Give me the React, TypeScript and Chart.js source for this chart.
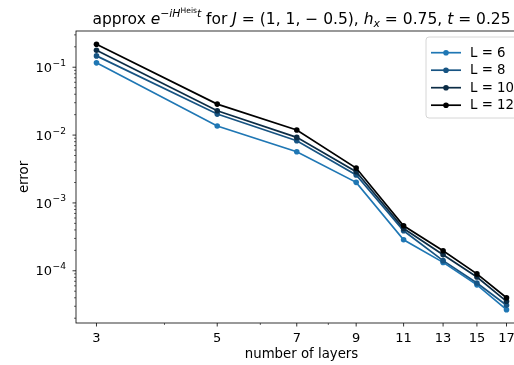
import React, { useEffect, useRef } from "react";
import { Chart, registerables } from "chart.js";
Chart.register(...registerables);

const layers = [3, 5, 7, 9, 11, 13, 15, 17];
const seriesLabels = ["L = 6", "L = 8", "L = 10", "L = 12"];
const errL6 = [0.116, 0.0136, 0.00569, 0.00201, 2.86e-4, 1.33e-4, 6.2e-5, 2.67e-5];
const errL8 = [0.147, 0.0204, 0.00824, 0.00258, 3.89e-4, 1.41e-4, 6.6e-5, 3.1e-5];
const errL10 = [0.178, 0.0228, 0.00925, 0.00288, 4.19e-4, 1.72e-4, 8.1e-5, 3.55e-5];
const errL12 = [0.218, 0.0286, 0.0119, 0.00327, 4.6e-4, 1.97e-4, 9.0e-5, 4.0e-5];
const seriesColors = ["#1f77b4", "#175483", "#0c2c45", "#000000"];
const xTickValues = [3, 5, 7, 9, 11, 13, 15, 17];
const xMinorTicks = [4, 6, 8];
const yTickValues = [1e-4, 1e-3, 1e-2, 1e-1];
const yTickBase = "10";
const yTickExponents = ["−4", "−3", "−2", "−1"];
const xLabel = "number of layers";
const yLabel = "error";

const FONT = '"DejaVu Sans"';
const TICK_SIZE = 13;
const LABEL_SIZE = 13.3;

const overlayPlugin = {
  id: "overlay",
  afterDraw(chart: any) {
    const ctx = chart.ctx as CanvasRenderingContext2D;
    const ca = chart.chartArea;
    const xs = chart.scales.x;
    const ys = chart.scales.y;
    ctx.save();
    // frame
    ctx.strokeStyle = "#000";
    ctx.lineWidth = 0.8;
    ctx.strokeRect(ca.left, ca.top, ca.right - ca.left, ca.bottom - ca.top);
    const tick = (x1: number, y1: number, x2: number, y2: number, w: number) => {
      ctx.lineWidth = w;
      ctx.beginPath();
      ctx.moveTo(x1, y1);
      ctx.lineTo(x2, y2);
      ctx.stroke();
    };
    xTickValues.forEach((v) => {
      const px = xs.getPixelForValue(v);
      tick(px, ca.bottom, px, ca.bottom + 3.5, 0.8);
    });
    xMinorTicks.forEach((v) => {
      const px = xs.getPixelForValue(v);
      tick(px, ca.bottom, px, ca.bottom + 2, 0.6);
    });
    for (let e = -6; e <= 0; e++) {
      for (let m = 1; m <= 9; m++) {
        const v = m * Math.pow(10, e);
        if (v < ys.min || v > ys.max) continue;
        const py = ys.getPixelForValue(v);
        if (m === 1) tick(ca.left, py, ca.left - 3.5, py, 0.8);
        else tick(ca.left, py, ca.left - 2, py, 0.6);
      }
    }
    // y tick labels (10^n, mathtext-like)
    ctx.fillStyle = "#000";
    ctx.textBaseline = "alphabetic";
    ctx.textAlign = "left";
    yTickValues.forEach((v, i) => {
      const py = ys.getPixelForValue(v);
      const supSize = TICK_SIZE * 0.7;
      ctx.font = `${supSize}px ${FONT}`;
      const wSup = ctx.measureText(yTickExponents[i]).width;
      ctx.font = `${TICK_SIZE}px ${FONT}`;
      const wBase = ctx.measureText(yTickBase).width;
      const right = ca.left - 10.5;
      const x0 = right - wSup - wBase;
      const base = py + 0.36 * TICK_SIZE;
      ctx.fillText(yTickBase, x0, base);
      ctx.font = `${supSize}px ${FONT}`;
      ctx.fillText(yTickExponents[i], x0 + wBase + 0.5, base - 0.48 * TICK_SIZE);
    });
    // axis labels
    ctx.font = `${LABEL_SIZE}px ${FONT}`;
    ctx.textAlign = "center";
    ctx.textBaseline = "middle";
    ctx.fillText(xLabel, (ca.left + ca.right) / 2, 355);
    ctx.save();
    ctx.translate(25, (ca.top + ca.bottom) / 2);
    ctx.rotate(-Math.PI / 2);
    ctx.fillText(yLabel, 0, 0);
    ctx.restore();

    // title (mathtext-like)
    const s = 15.5;
    const segs: { t: string; it?: boolean; sz: number; dy: number }[] = [
      { t: "approx ", sz: s, dy: 0 },
      { t: "e", it: true, sz: s, dy: 0 },
      { t: "−", sz: s * 0.7, dy: -0.42 * s },
      { t: "iH", it: true, sz: s * 0.7, dy: -0.42 * s },
      { t: "Heis", sz: s * 0.49, dy: -0.72 * s },
      { t: "t", it: true, sz: s * 0.7, dy: -0.42 * s },
      { t: " for ", sz: s, dy: 0 },
      { t: "J", it: true, sz: s, dy: 0 },
      { t: " = (1, 1, − 0.5), ", sz: s, dy: 0 },
      { t: "h", it: true, sz: s, dy: 0 },
      { t: "x", it: true, sz: s * 0.7, dy: 0.2 * s },
      { t: " = 0.75, ", sz: s, dy: 0 },
      { t: "t", it: true, sz: s, dy: 0 },
      { t: " = 0.25", sz: s, dy: 0 },
    ];
    const fontOf = (g: any) => `${g.it ? "italic " : ""}${g.sz}px ${FONT}`;
    let total = 0;
    segs.forEach((g) => {
      ctx.font = fontOf(g);
      total += ctx.measureText(g.t).width;
    });
    let x = (ca.left + ca.right) / 2 - total / 2;
    const base = 24;
    ctx.textAlign = "left";
    ctx.textBaseline = "alphabetic";
    segs.forEach((g) => {
      ctx.font = fontOf(g);
      ctx.fillText(g.t, x, base + g.dy);
      x += ctx.measureText(g.t).width;
    });

    // legend
    const lx = 426, ly = 37, lw = 94, lh = 81, r = 3;
    ctx.beginPath();
    ctx.moveTo(lx + r, ly);
    ctx.lineTo(lx + lw - r, ly);
    ctx.arcTo(lx + lw, ly, lx + lw, ly + r, r);
    ctx.lineTo(lx + lw, ly + lh - r);
    ctx.arcTo(lx + lw, ly + lh, lx + lw - r, ly + lh, r);
    ctx.lineTo(lx + r, ly + lh);
    ctx.arcTo(lx, ly + lh, lx, ly + lh - r, r);
    ctx.lineTo(lx, ly + r);
    ctx.arcTo(lx, ly, lx + r, ly, r);
    ctx.closePath();
    ctx.fillStyle = "rgba(255,255,255,0.8)";
    ctx.fill();
    ctx.strokeStyle = "#cccccc";
    ctx.lineWidth = 0.8;
    ctx.stroke();
    ctx.font = `${LABEL_SIZE}px ${FONT}`;
    ctx.textBaseline = "middle";
    ctx.textAlign = "left";
    chart.data.datasets.forEach((ds: any, i: number) => {
      const cy = 52.7 + i * 17.5;
      ctx.strokeStyle = ds.borderColor;
      ctx.lineWidth = 1.7;
      ctx.beginPath();
      ctx.moveTo(431, cy);
      ctx.lineTo(461, cy);
      ctx.stroke();
      ctx.fillStyle = ds.borderColor;
      ctx.beginPath();
      ctx.arc(446, cy, 2.8, 0, Math.PI * 2);
      ctx.fill();
      ctx.fillStyle = "#000";
      ctx.fillText(ds.label, 470, cy + 0.5);
    });
    ctx.restore();
  },
};

export default function App() {
  const ref = useRef<HTMLCanvasElement>(null);
  useEffect(() => {
    if (!ref.current) return;
    const series = [errL6, errL8, errL10, errL12];
    const chart = new Chart(ref.current, {
      type: "line",
      data: {
        datasets: series.map((arr, i) => ({
          label: seriesLabels[i],
          data: layers.map((x, j) => ({ x, y: arr[j] })),
          borderColor: seriesColors[i],
          backgroundColor: seriesColors[i],
          borderWidth: 1.7,
          pointRadius: 2.8,
          pointBorderWidth: 0,
          pointBackgroundColor: seriesColors[i],
          tension: 0,
          order: series.length - i,
        })),
      },
      options: {
        animation: false,
        responsive: false,
        devicePixelRatio: 1,
        layout: { padding: { top: 31, right: 13, left: 0, bottom: 0 } },
        plugins: {
          legend: { display: false },
          tooltip: { enabled: false },
          title: { display: false },
        },
        scales: {
          x: {
            type: "logarithmic",
            min: 2.751,
            max: 18.54,
            afterBuildTicks: (s: any) => {
              s.ticks = xTickValues.map((v) => ({ value: v }));
            },
            afterFit: (s: any) => {
              s.height = 42;
            },
            grid: { display: false, drawTicks: false },
            border: { display: false },
            ticks: {
              autoSkip: false,
              maxRotation: 0,
              padding: 8,
              color: "#000",
              font: { family: "DejaVu Sans", size: TICK_SIZE },
              callback: (v: any) => String(v),
            },
          },
          y: {
            type: "logarithmic",
            min: 1.7e-5,
            max: 0.342,
            afterBuildTicks: (s: any) => {
              s.ticks = yTickValues.map((v) => ({ value: v }));
            },
            afterFit: (s: any) => {
              s.width = 76;
            },
            grid: { display: false, drawTicks: false },
            border: { display: false },
            ticks: { display: false },
          },
        },
      } as any,
      plugins: [overlayPlugin],
    });
    return () => chart.destroy();
  }, []);
  return (
    <div
      style={{
        position: "fixed",
        left: 0,
        top: 0,
        width: 514,
        height: 365,
        overflow: "hidden",
        background: "#fff",
      }}
    >
      <canvas ref={ref} width={540} height={365} style={{ display: "block", width: 540, height: 365 }} />
    </div>
  );
}
